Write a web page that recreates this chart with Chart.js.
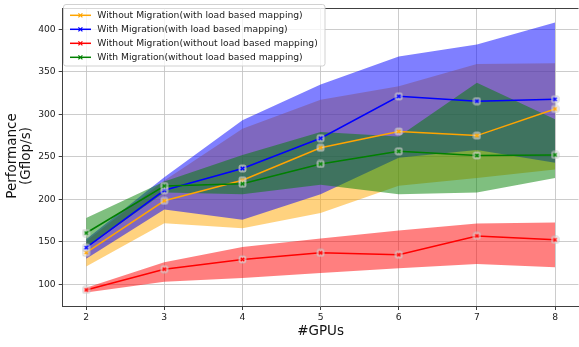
<!DOCTYPE html>
<html>
<head>
<meta charset="utf-8">
<script src="https://cdn.jsdelivr.net/npm/chart.js@4.4.1/dist/chart.umd.min.js"></script>
<style>
  html, body { margin: 0; padding: 0; background: #fff; overflow: hidden; }
  #wrap { width: 584px; height: 347px; position: relative; }
</style>
</head>
<body>
<div id="wrap"><canvas id="chart"></canvas></div>
<script>
// Number of GPUs on the x axis
const gpus = [2, 3, 4, 5, 6, 7, 8];
const yTickValues = [100, 150, 200, 250, 300, 350, 400];

// Without Migration (with load based mapping)
const noMigLoadMean = [137.4, 198.3, 222.4, 260.7, 279.8, 274.9, 306.2];
const noMigLoadLow  = [121, 172, 166, 184, 216, 225, 235];
const noMigLoadHigh = [151, 222, 283, 317, 333, 359, 360];

// With Migration (with load based mapping)
const migLoadMean = [143.2, 210.6, 236.2, 271.8, 321.1, 315.4, 317.7];
const migLoadLow  = [130, 188, 176, 206, 249, 258, 243];
const migLoadHigh = [153, 226, 293, 335, 368, 382, 408];

// Without Migration (without load based mapping)
const noMigMean = [93.5, 117.9, 129.4, 137.1, 134.8, 157.0, 152.4];
const noMigLow  = [90.5, 103, 107.6, 113.3, 119, 124, 120.2];
const noMigHigh = [96, 126, 144, 154, 163.5, 171.5, 172.7];

// With Migration (without load based mapping)
const migMean = [160.4, 215.6, 218.3, 241.6, 256.5, 251.5, 252.2];
const migLow  = [143, 208, 206, 217, 206, 208, 225];
const migHigh = [178, 221, 252, 279, 274, 337, 294];

const seriesLabels = [
  'Without Migration(with load based mapping)',
  'With Migration(with load based mapping)',
  'Without Migration(without load based mapping)',
  'With Migration(without load based mapping)'
];
const seriesColors = ['#ffa500', '#0000ff', '#ff0000', '#008000'];
const bandColors = ['rgba(255,165,0,0.5)', 'rgba(0,0,255,0.5)', 'rgba(255,0,0,0.5)', 'rgba(0,128,0,0.5)'];

const toPts = arr => gpus.map((g, i) => ({ x: g, y: arr[i] }));

// Small "x" marker sitting on a pale square
function makeMarker(color) {
  const s = 9;
  const c = document.createElement('canvas');
  c.width = s; c.height = s;
  const g = c.getContext('2d');
  g.fillStyle = 'rgba(255,255,255,0.45)';
  g.strokeStyle = 'rgba(185,185,185,0.75)';
  g.lineWidth = 1;
  g.beginPath();
  g.roundRect(1, 1, 7, 7, 1.8);
  g.fill(); g.stroke();
  g.strokeStyle = color;
  g.lineWidth = 1.3;
  g.beginPath();
  g.moveTo(2.7, 2.7); g.lineTo(6.3, 6.3);
  g.moveTo(6.3, 2.7); g.lineTo(2.7, 6.3);
  g.stroke();
  return c;
}

const bands = [
  [noMigLoadLow, noMigLoadHigh],
  [migLoadLow, migLoadHigh],
  [noMigLow, noMigHigh],
  [migLow, migHigh]
];
const means = [noMigLoadMean, migLoadMean, noMigMean, migMean];

const datasets = [];
bands.forEach((b, k) => {
  const ord = 40 - k * 10;
  datasets.push({
    data: toPts(b[0]), borderWidth: 0, borderColor: 'transparent',
    pointRadius: 0, fill: false, order: ord
  });
  datasets.push({
    data: toPts(b[1]), borderWidth: 0, borderColor: 'transparent',
    pointRadius: 0, fill: datasets.length - 1, backgroundColor: bandColors[k], order: ord
  });
});
means.forEach((m, k) => {
  datasets.push({
    label: seriesLabels[k],
    data: toPts(m),
    borderColor: seriesColors[k],
    borderWidth: 1.5,
    pointStyle: makeMarker(seriesColors[k]),
    pointRadius: 4,
    fill: false,
    order: 4 - k
  });
});

const FONT = "'DejaVu Sans', sans-serif";

// Axis titles, frame top line and legend box
const overlay = {
  id: 'overlay',
  afterDraw(chart) {
    const ctx = chart.ctx;
    const a = chart.chartArea;
    ctx.save();
    // top spine
    ctx.strokeStyle = '#404040';
    ctx.lineWidth = 1;
    ctx.beginPath();
    ctx.moveTo(a.left, a.top);
    ctx.lineTo(a.right, a.top);
    ctx.stroke();

    // axis titles
    ctx.fillStyle = '#111';
    ctx.font = `13.5px ${FONT}`;
    ctx.textAlign = 'center';
    ctx.textBaseline = 'middle';
    ctx.fillText('#GPUs', (a.left + a.right) / 2, 331.5);
    ctx.save();
    ctx.translate(12.5, 156);
    ctx.rotate(-Math.PI / 2);
    ctx.fillText('Performance', 0, 0);
    ctx.restore();
    ctx.save();
    ctx.translate(26.2, 156);
    ctx.rotate(-Math.PI / 2);
    ctx.fillText('(Gflop/s)', 0, 0);
    ctx.restore();

    // legend
    const lx = 63.5, ly = 4.5, lw = 261.5, lh = 61.5;
    ctx.fillStyle = 'rgba(255,255,255,0.8)';
    ctx.strokeStyle = 'rgba(204,204,204,0.9)';
    ctx.lineWidth = 1;
    ctx.beginPath();
    ctx.roundRect(lx, ly, lw, lh, 2.5);
    ctx.fill(); ctx.stroke();
    ctx.font = `9.2px ${FONT}`;
    ctx.textAlign = 'left';
    seriesLabels.forEach((lab, k) => {
      const y = 15.3 + k * 14;
      ctx.strokeStyle = seriesColors[k];
      ctx.lineWidth = 1.5;
      ctx.beginPath();
      ctx.moveTo(70, y); ctx.lineTo(91, y);
      ctx.stroke();
      ctx.lineWidth = 1.2;
      ctx.beginPath();
      ctx.moveTo(78.4, y - 2); ctx.lineTo(82.4, y + 2);
      ctx.moveTo(82.4, y - 2); ctx.lineTo(78.4, y + 2);
      ctx.stroke();
      ctx.fillStyle = '#1a1a1a';
      ctx.fillText(lab, 97.3, y + 0.5);
    });
    ctx.restore();
  }
};

new Chart(document.getElementById('chart'), {
  type: 'line',
  data: { datasets },
  options: {
    responsive: true,
    maintainAspectRatio: false,
    animation: false,
    events: [],
    layout: { padding: { top: 2.7, right: 1.4, left: 0, bottom: 0 } },
    plugins: {
      legend: { display: false },
      tooltip: { enabled: false },
      filler: { propagate: false }
    },
    elements: { line: { tension: 0 } },
    scales: {
      x: {
        type: 'linear',
        min: 1.7,
        max: 8.3,
        afterBuildTicks: s => { s.ticks = gpus.map(v => ({ value: v })); },
        afterFit: s => { s.height = 41; },
        grid: { color: 'rgba(195,195,195,0.85)', lineWidth: 1, tickColor: '#404040', tickLength: 4, drawTicks: true },
        border: { display: true, color: '#404040', width: 1 },
        ticks: { color: '#222', font: { family: FONT, size: 9.2 }, padding: 2, maxRotation: 0 }
      },
      y: {
        type: 'linear',
        min: 74.6,
        max: 424.3,
        afterBuildTicks: s => { s.ticks = yTickValues.map(v => ({ value: v })); },
        afterFit: s => { s.width = 62.7; },
        grid: { color: 'rgba(195,195,195,0.85)', lineWidth: 1, tickColor: '#404040', tickLength: 4, drawTicks: true },
        border: { display: true, color: '#404040', width: 1 },
        ticks: { color: '#222', font: { family: FONT, size: 9.2 }, padding: 3 }
      }
    }
  },
  plugins: [overlay]
});
</script>
</body>
</html>
